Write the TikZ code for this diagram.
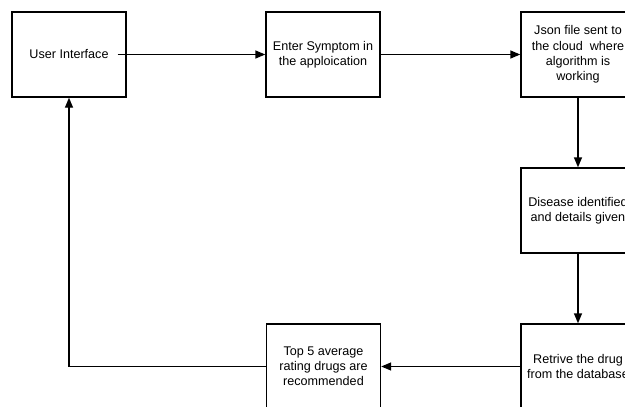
\documentclass[tikz,border=0pt]{standalone}
\usepackage{fontspec}
\setmainfont{Liberation Sans}
\usetikzlibrary{arrows.meta}
\begin{document}
\begin{tikzpicture}[x=1pt,y=-1pt,
  box/.style={draw=black,line width=1.4pt,minimum width=114pt,minimum height=85pt,align=center,inner sep=0pt,
    font=\fontsize{12.6pt}{15.2pt}\selectfont},
  conn/.style={line width=1.4pt,-{Triangle[length=10pt,width=8pt]}}]
\useasboundingbox (0,0) rectangle (625,407);
\clip (0,0) rectangle (625,407);
\fill[white] (0,0) rectangle (625,407);
\node[box] (ui) at (69,54.5) {User Interface};
\node[box] (enter) at (323,54.5) {Enter Symptom in\\the apploication};
\node[box] (json) at (578,54.5) {Json file sent to\\the cloud\ \ where\\algorithm is\\working};
\node[box] (dis) at (578,210.5) {Disease identified\\and details given};
\node[box] (ret) at (578,366.5) {Retrive the drug\\from the database};
\node[box] (top) at (323.5,366.5) {Top 5 average\\rating drugs are\\recommended};
\coordinate (uistart) at ([xshift=-9pt]ui.east);
\draw[conn] (uistart) -- (enter.west);
\draw[conn] (enter.east) -- (json.west);
\draw[conn] (json.south) -- (dis.north);
\draw[conn] (dis.south) -- (ret.north);
\draw[conn] (ret.west) -- (top.east);
\draw[conn] (top.west) -| (ui.south);
\end{tikzpicture}
\end{document}
